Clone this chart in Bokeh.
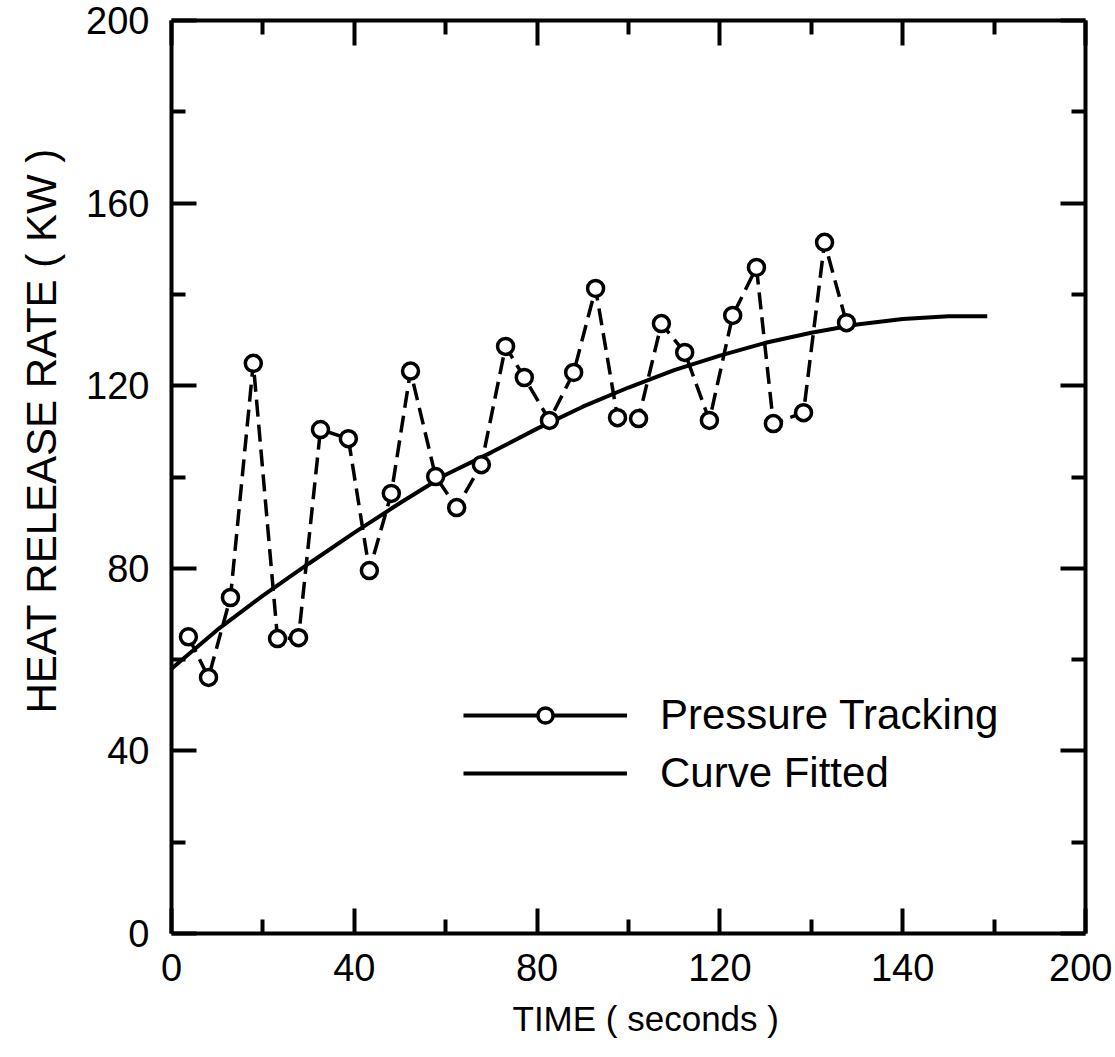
import numpy as np
from bokeh.plotting import figure
from bokeh.models import (Range1d, LinearAxis, FixedTicker, Legend, LegendItem, Title)
from bokeh.embed import file_html
from bokeh.resources import INLINE

# ---- data ----
time_pressure = [3.7, 8.1, 12.9, 17.9, 23.2, 27.8, 32.6, 38.7, 43.3, 48.1,
                 52.3, 57.8, 62.4, 67.8, 73.1, 77.2, 82.7, 88.0, 92.8, 97.6,
                 102.2, 107.2, 112.3, 117.7, 122.8, 128.0, 131.7, 138.3, 142.9, 147.7]
hrr_pressure = [65.0, 56.1, 73.6, 124.9, 64.6, 64.8, 110.4, 108.4, 79.5, 96.4,
                123.2, 100.1, 93.3, 102.7, 128.6, 121.8, 112.4, 122.9, 141.3, 113.0,
                112.8, 133.6, 127.3, 112.4, 135.4, 145.9, 111.7, 114.1, 151.4, 133.8]

time_fit = [0, 10, 20, 30, 40, 50, 60, 70, 80, 90, 100, 110, 120, 130, 140, 150, 160, 170, 178.5]
hrr_fit = [58.0, 66.5, 74.0, 81.0, 87.8, 94.3, 100.5, 105.4, 110.6, 115.4, 119.6, 123.4,
           126.6, 129.4, 131.6, 133.4, 134.6, 135.2, 135.2]

x_major = [0, 40, 80, 120, 160, 200]
x_minor = [20, 60, 100, 140, 180]
x_tick_labels = {0: "0", 40: "40", 80: "80", 120: "120", 160: "140", 200: "200"}
y_major = [0, 40, 80, 120, 160, 200]
y_minor = [20, 60, 100, 140, 180]

FONT = "Liberation Sans"

p = figure(width=1112, height=1052, output_backend="svg", toolbar_location=None,
           x_range=Range1d(0, 200), y_range=Range1d(0, 200),
           min_border_left=171, min_border_right=27, min_border_top=20, min_border_bottom=119,
           x_axis_location=None, y_axis_location=None)
p.outline_line_color = None
p.xgrid.visible = False
p.ygrid.visible = False
p.background_fill_color = "white"
p.border_fill_color = "white"


def style_axis(ax, show_labels, standoff=20):
    ax.axis_line_width = 4
    ax.axis_line_color = "black"
    ax.major_tick_line_width = 4
    ax.minor_tick_line_width = 4
    ax.major_tick_line_color = "black"
    ax.minor_tick_line_color = "black"
    ax.major_tick_in = 25
    ax.major_tick_out = 0
    ax.minor_tick_in = 14
    ax.minor_tick_out = 0
    if show_labels:
        ax.major_label_text_font = FONT
        ax.major_label_text_font_size = "38px"
        ax.major_label_text_color = "black"
        ax.major_label_standoff = standoff
    else:
        ax.major_label_standoff = 0


xb = LinearAxis(ticker=FixedTicker(ticks=x_major, minor_ticks=x_minor),
                major_label_overrides=x_tick_labels)
style_axis(xb, True, 20)
p.add_layout(xb, "below")

xtitle = Title(text="TIME ( seconds )", align="left", offset=341,
               text_font=FONT, text_font_size="35px", text_font_style="normal",
               text_color="black", standoff=26)
p.add_layout(xtitle, "below")

xt = LinearAxis(ticker=FixedTicker(ticks=x_major, minor_ticks=x_minor),
                major_label_overrides={t: "" for t in x_major})
style_axis(xt, False)
p.add_layout(xt, "above")

yl = LinearAxis(ticker=FixedTicker(ticks=y_major, minor_ticks=y_minor))
style_axis(yl, True, 22)
p.add_layout(yl, "left")

yr = LinearAxis(ticker=FixedTicker(ticks=y_major, minor_ticks=y_minor),
                major_label_overrides={t: "" for t in y_major})
style_axis(yr, False)
p.add_layout(yr, "right")

# y axis title, placed above the centre as in the reference
ytitle = Title(text="HEAT RELEASE RATE ( KW )", align="left", offset=220,
               vertical_align="top",
               text_font=FONT, text_font_size="42px", text_font_style="normal",
               text_color="black", standoff=34)
p.add_layout(ytitle, "left")

# data
p.line(time_fit, hrr_fit, line_color="black", line_width=4)
p.line(time_pressure, hrr_pressure, line_color="black", line_width=3.5, line_dash="17 8")
p.scatter(time_pressure, hrr_pressure, marker="circle", size=16, line_color="black",
          line_width=3.5, fill_color="white")

# legend proxies (NaN -> nothing drawn in the plot, only legend samples)
nan = np.array([np.nan])
leg_line = p.line(nan, nan, line_color="black", line_width=4)
leg_circ = p.scatter(nan, nan, marker="circle", line_color="black", line_width=3.5,
                     fill_color="white")
leg_fit = p.line(nan, nan, line_color="black", line_width=4)

legend = Legend(items=[LegendItem(label="Pressure Tracking", renderers=[leg_line, leg_circ]),
                       LegendItem(label="Curve Fitted", renderers=[leg_fit])],
                location=(292, 131), orientation="vertical",
                glyph_width=164, glyph_height=38, label_height=58, spacing=0,
                label_standoff=33, padding=0, margin=0,
                border_line_color=None, background_fill_alpha=0,
                label_text_font=FONT, label_text_font_size="42px", label_text_color="black")
p.add_layout(legend, "center")

open("out.html", "w").write(file_html(p, INLINE))
